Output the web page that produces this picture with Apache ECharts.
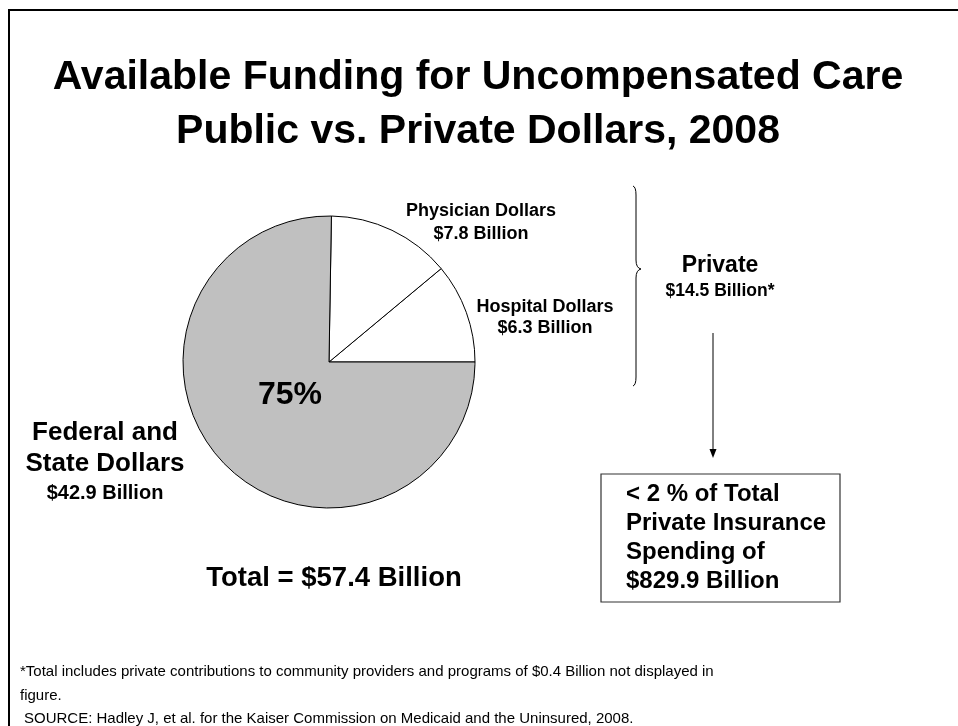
<!DOCTYPE html>
<html>
<head>
<meta charset="utf-8">
<script src="https://cdn.jsdelivr.net/npm/echarts@6/dist/echarts.min.js"></script>
<style>
  html, body { margin: 0; padding: 0; background: #fff; }
  #chart { width: 958px; height: 726px; }
</style>
</head>
<body>
<div id="chart"></div>
<script>
// Uncompensated care funding, 2008 (billions of dollars)
const sliceNames = ['Hospital Dollars', 'Physician Dollars', 'Federal and State Dollars'];
const sliceValues = [6.3, 7.8, 42.9];
const sliceColors = ['#ffffff', '#ffffff', '#c0c0c0'];
const otherPrivate = [0.4];          // community providers and programs, not in the pie
const privateInsuranceSpending = [829.9];

const titleLines = ['Available Funding for Uncompensated Care', 'Public vs. Private Dollars, 2008'];
const footnoteLines = [
  '*Total includes private contributions to community providers and programs of $0.4 Billion not displayed in',
  'figure.',
  'SOURCE: Hadley J, et al. for the Kaiser Commission on Medicaid and the Uninsured, 2008.'
];

const FONT = '"Liberation Sans", Arial, Helvetica, sans-serif';
const pieSum = sliceValues.reduce((a, b) => a + b, 0);
const total = pieSum + otherPrivate[0];
const privateTotal = sliceValues[0] + sliceValues[1] + otherPrivate[0];
const publicShare = Math.round(sliceValues[2] / pieSum * 100);
const billions = v => '$' + v.toFixed(1) + ' Billion';

function txt(x, y, text, size, opts) {
  opts = opts || {};
  return {
    type: 'text', x: x, y: y, z: 100, silent: true,
    style: {
      text: text,
      fontFamily: FONT,
      fontSize: size,
      fontWeight: opts.weight || 'bold',
      fill: '#000',
      align: opts.align || 'center',
      verticalAlign: 'middle'
    }
  };
}

const strokeStyle = { fill: 'none', stroke: '#000', lineWidth: 1 };
function seg(x1, y1, x2, y2) {
  return { type: 'line', z: 50, silent: true, shape: { x1, y1, x2, y2 }, style: strokeStyle };
}
function curve(x1, y1, cpx1, cpy1, x2, y2) {
  return { type: 'bezierCurve', z: 50, silent: true,
    shape: { x1, y1, cpx1, cpy1, x2, y2 }, style: strokeStyle };
}

const chart = echarts.init(document.getElementById('chart'), null, { renderer: 'canvas' });

const graphics = [
  // frame
  { type: 'rect', z: 1, silent: true, shape: { x: 9, y: 10, width: 1000, height: 800 },
    style: { fill: 'none', stroke: '#000', lineWidth: 2 } },
  // title
  txt(478, 78, titleLines[0], 41),
  txt(478, 132, titleLines[1], 41),
  // slice labels
  txt(481, 211, sliceNames[1], 18),
  txt(481, 234, billions(sliceValues[1]), 18),
  txt(545, 307, sliceNames[0], 18),
  txt(545, 328, billions(sliceValues[0]), 18),
  txt(290, 395, publicShare + '%', 32),
  txt(105, 433, 'Federal and', 26),
  txt(105, 464, 'State Dollars', 26),
  txt(105, 493, billions(sliceValues[2]), 20),
  txt(334, 578, 'Total = ' + billions(total), 27.5),
  // private bracket
  curve(633, 186, 636, 187, 636, 195),
  seg(636, 195, 636, 260),
  curve(636, 260, 636, 268, 641, 269),
  curve(641, 269, 636, 270, 636, 278),
  seg(636, 278, 636, 377),
  curve(636, 377, 636, 385, 633, 386),
  txt(720, 266, 'Private', 23),
  txt(720, 291, billions(privateTotal) + '*', 17.5),
  // arrow down to the box
  seg(713, 333, 713, 450),
  { type: 'polygon', z: 50, silent: true, shape: { points: [[709.5, 449], [716.5, 449], [713, 458]] },
    style: { fill: '#000' } },
  // comparison box
  { type: 'rect', z: 50, silent: true, shape: { x: 601, y: 474, width: 239, height: 128 },
    style: { fill: '#fff', stroke: '#333', lineWidth: 1.2 } },
  txt(626, 494, '< 2 % of Total', 24, { align: 'left' }),
  txt(626, 523.5, 'Private Insurance', 24, { align: 'left' }),
  txt(626, 552, 'Spending of', 24, { align: 'left' }),
  txt(626, 581.5, billions(privateInsuranceSpending[0]), 24, { align: 'left' }),
  // footnotes
  txt(20, 672, footnoteLines[0], 15, { align: 'left', weight: 'normal' }),
  txt(20, 696, footnoteLines[1], 15, { align: 'left', weight: 'normal' }),
  txt(24, 719, footnoteLines[2], 15, { align: 'left', weight: 'normal' })
];

chart.setOption({
  animation: false,
  backgroundColor: '#fff',
  series: [{
    type: 'pie',
    center: [329, 362],
    radius: 146,
    startAngle: 0,
    clockwise: false,
    silent: true,
    label: { show: false },
    labelLine: { show: false },
    emphasis: { disabled: true },
    itemStyle: { borderColor: '#000', borderWidth: 1 },
    data: sliceNames.map((n, i) => ({
      name: n, value: sliceValues[i], itemStyle: { color: sliceColors[i] }
    }))
  }],
  graphic: graphics
});
</script>
</body>
</html>
